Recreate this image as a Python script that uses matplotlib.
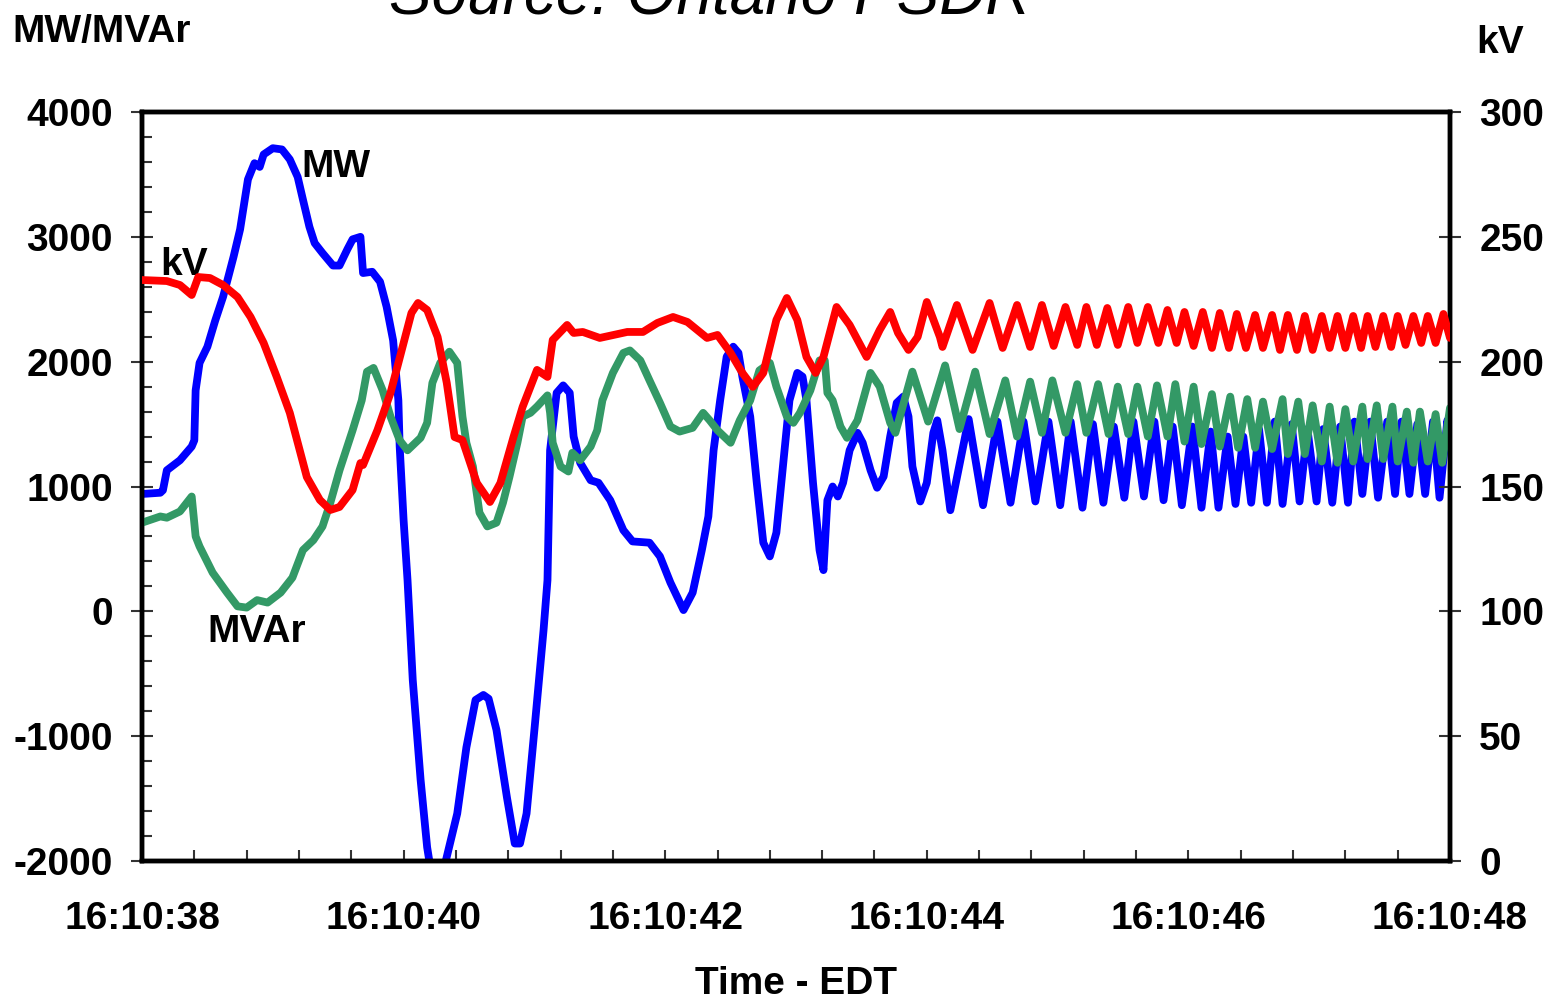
import matplotlib
matplotlib.use("Agg")
import matplotlib.pyplot as plt
from matplotlib.ticker import MultipleLocator, FixedLocator, FixedFormatter

plt.rcParams['font.family'] = ['Liberation Sans', 'DejaVu Sans']
plt.rcParams['axes.unicode_minus'] = False

# ---------------- data (time in s after 16:10:38) ----------------
mw_t = [0.00, 0.14, 0.16, 0.19, 0.29, 0.38, 0.40, 0.41, 0.44, 0.50, 0.56, 0.62, 0.70, 0.75, 0.81,
        0.86, 0.90, 0.93, 1.00, 1.07, 1.13, 1.19, 1.23, 1.28, 1.32, 1.38, 1.46, 1.51, 1.57, 1.61,
        1.67, 1.69, 1.76, 1.82, 1.87, 1.92, 1.96, 1.97, 2.00, 2.03, 2.07, 2.13, 2.18, 2.25, 2.32,
        2.41, 2.48, 2.55, 2.61, 2.65, 2.71, 2.79, 2.85, 2.89, 2.94, 3.00, 3.07, 3.10, 3.12, 3.17,
        3.22, 3.27, 3.30, 3.35, 3.43, 3.49, 3.58, 3.68, 3.75, 3.88, 3.96, 4.04, 4.14, 4.21, 4.28,
        4.33, 4.37, 4.42, 4.47, 4.52, 4.56, 4.59, 4.65, 4.70, 4.75, 4.80, 4.85, 4.90, 4.95, 5.01,
        5.05, 5.08, 5.13, 5.18, 5.21, 5.24, 5.28, 5.32, 5.36, 5.41, 5.47, 5.51, 5.57, 5.62, 5.67,
        5.72, 5.77, 5.82, 5.86, 5.89, 5.95, 6.00, 6.05, 6.08, 6.12, 6.18,
        6.32, 6.43, 6.54, 6.64, 6.74, 6.83, 6.93, 7.02, 7.10, 7.19, 7.27, 7.35, 7.43, 7.51, 7.58,
        7.66, 7.74, 7.81, 7.88, 7.95, 8.03, 8.10, 8.17, 8.23, 8.30, 8.36, 8.42, 8.48, 8.54, 8.60,
        8.66, 8.72, 8.79, 8.85, 8.91, 8.98, 9.03, 9.10, 9.16, 9.22, 9.27, 9.33, 9.39, 9.45, 9.52,
        9.58, 9.63, 9.69, 9.75, 9.81, 9.87, 9.92, 9.98, 10.00]
mw_val = [940, 950, 970, 1130, 1210, 1320, 1370, 1770, 1990, 2120, 2330, 2520, 2840, 3060, 3460,
          3590, 3560, 3660, 3710, 3700, 3620, 3480, 3300, 3080, 2950, 2870, 2770, 2770, 2900, 2980,
          3000, 2710, 2720, 2640, 2440, 2170, 1690, 1320, 730, 250, -550, -1350, -1890, -2350, -2010,
          -1620, -1090, -710, -670, -700, -950, -1490, -1860, -1860, -1620, -950, -150, 250, 1290, 1750,
          1810, 1750, 1400, 1190, 1050, 1030, 890, 650, 560, 550, 440, 230, 10, 150, 490,
          760, 1290, 1690, 2040, 2120, 2070, 1880, 1560, 1030, 550, 440, 630, 1160, 1690, 1910,
          1880, 1690, 1030, 490, 330, 890, 1000, 920, 1030, 1290, 1430, 1350, 1130, 990, 1080,
          1400, 1670, 1720, 1560, 1160, 880, 1030, 1430, 1530, 1290, 810,
          1540, 850, 1520, 870, 1520, 880, 1520, 850, 1520, 830, 1500, 870, 1480, 910, 1520,
          920, 1520, 890, 1480, 850, 1480, 830, 1440, 830, 1400, 860, 1400, 870, 1460, 870,
          1520, 860, 1500, 880, 1460, 880, 1460, 870, 1480, 870, 1520, 940, 1520, 910, 1520,
          940, 1520, 940, 1500, 940, 1520, 910, 1530, 1370]

mvar_t = [0.00, 0.14, 0.19, 0.29, 0.38, 0.41, 0.44, 0.54, 0.65, 0.73, 0.80, 0.88, 0.96, 1.06, 1.15,
          1.23, 1.31, 1.38, 1.44, 1.51, 1.61, 1.68, 1.72, 1.77, 1.84, 1.90, 1.97, 2.03, 2.13, 2.18,
          2.22, 2.28, 2.35, 2.41, 2.45, 2.48, 2.53, 2.58, 2.64, 2.71, 2.76, 2.81, 2.87, 2.91, 2.97,
          3.02, 3.10, 3.12, 3.14, 3.20, 3.26, 3.29, 3.35, 3.43, 3.48, 3.52, 3.60, 3.68, 3.73, 3.81,
          3.88, 3.96, 4.04, 4.11, 4.21, 4.29, 4.34, 4.40, 4.50, 4.57, 4.65, 4.72, 4.80, 4.85, 4.93,
          4.98, 5.03, 5.11, 5.18, 5.22, 5.24, 5.28, 5.34, 5.39, 5.47, 5.57, 5.64, 5.72, 5.76,
          5.89, 6.01, 6.14, 6.25, 6.37, 6.48, 6.60, 6.69, 6.79, 6.88, 6.96, 7.06, 7.15, 7.22, 7.31,
          7.39, 7.46, 7.54, 7.61, 7.69, 7.76, 7.84, 7.90, 7.97, 8.04, 8.10, 8.18, 8.24, 8.32, 8.38,
          8.45, 8.51, 8.57, 8.64, 8.72, 8.76, 8.84, 8.89, 8.95, 9.02, 9.08, 9.14, 9.20, 9.26, 9.33,
          9.37, 9.44, 9.49, 9.56, 9.60, 9.67, 9.72, 9.77, 9.83, 9.89, 9.94, 10.00]
mvar_val = [710, 760, 750, 800, 920, 600, 520, 310, 150, 40, 30, 90, 70, 150, 270,
            490, 570, 680, 870, 1130, 1450, 1690, 1920, 1950, 1770, 1560, 1370, 1290, 1390, 1510,
            1830, 1990, 2080, 1990, 1560, 1350, 1160, 790, 680, 710, 870, 1080, 1350, 1560, 1590,
            1640, 1730, 1590, 1350, 1160, 1120, 1270, 1210, 1320, 1450, 1690, 1910, 2070, 2090, 2010,
            1850, 1670, 1480, 1440, 1470, 1590, 1530, 1450, 1350, 1530, 1690, 1930, 1990, 1800, 1560,
            1510, 1590, 1770, 2010, 2010, 1750, 1690, 1480, 1390, 1530, 1910, 1800, 1510, 1430,
            1920, 1520, 1970, 1460, 1920, 1420, 1850, 1400, 1840, 1430, 1850, 1430, 1820, 1430, 1820,
            1420, 1800, 1420, 1800, 1400, 1810, 1400, 1820, 1360, 1800, 1340, 1740, 1320, 1720, 1310,
            1700, 1310, 1680, 1300, 1700, 1260, 1680, 1260, 1650, 1200, 1640, 1190, 1620, 1200, 1640,
            1220, 1650, 1220, 1640, 1200, 1600, 1190, 1600, 1200, 1580, 1190, 1630]

kv_t = [0.00, 0.19, 0.29, 0.38, 0.43, 0.52, 0.62, 0.73, 0.83, 0.93, 1.03, 1.13, 1.26, 1.36, 1.44,
        1.51, 1.61, 1.67, 1.69, 1.80, 1.90, 2.00, 2.06, 2.11, 2.18, 2.26, 2.33, 2.39, 2.45, 2.56,
        2.66, 2.74, 2.84, 2.91, 3.02, 3.10, 3.14, 3.25, 3.30, 3.37, 3.50, 3.71, 3.83, 3.94, 4.06,
        4.17, 4.32, 4.40, 4.50, 4.59, 4.67, 4.75, 4.85, 4.93, 5.01, 5.08, 5.15, 5.21, 5.31, 5.41,
        5.54, 5.64, 5.72, 5.78, 5.86, 5.93, 6.00, 6.10, 6.12, 6.23, 6.35,
        6.48, 6.58, 6.69, 6.79, 6.88, 6.97, 7.06, 7.15, 7.22, 7.30, 7.38, 7.46, 7.54, 7.61, 7.69,
        7.77, 7.84, 7.91, 7.97, 8.04, 8.11, 8.18, 8.24, 8.31, 8.37, 8.44, 8.51, 8.57, 8.64, 8.70,
        8.76, 8.83, 8.89, 8.95, 9.02, 9.08, 9.14, 9.20, 9.26, 9.32, 9.37, 9.43, 9.49, 9.55, 9.60,
        9.66, 9.72, 9.78, 9.83, 9.89, 9.95, 10.00]
kv_val = [232.7, 232.3, 230.7, 226.7, 233.9, 233.5, 230.7, 225.9, 217.9, 207.5, 193.9, 179.5, 153.8, 144.6, 140.6,
          141.8, 148.6, 159.4, 158.6, 172.6, 187.5, 207.5, 219.5, 223.5, 220.7, 209.9, 191.5, 169.8, 168.6, 151.4,
          143.8, 151.4, 169.8, 181.9, 196.7, 193.9, 208.7, 214.7, 211.5, 211.9, 209.5, 211.9, 211.9, 215.5, 217.9,
          215.9, 209.5, 210.7, 203.5, 195.5, 189.9, 195.5, 216.7, 225.5, 216.7, 201.9, 195.5, 201.9, 221.9, 214.7,
          201.9, 212.7, 219.9, 211.5, 204.7, 209.9, 223.9, 209.9, 205.9, 222.7, 204.7,
          223.5, 205.5, 222.7, 205.9, 222.7, 206.3, 221.9, 206.7, 221.9, 206.7, 221.5, 206.7, 221.9, 207.5, 221.9,
          207.5, 220.7, 207.5, 219.9, 206.3, 219.9, 205.5, 219.5, 205.5, 219.1, 205.5, 218.7, 205.5, 218.7, 204.7,
          218.7, 204.7, 218.3, 204.7, 218.3, 205.5, 218.3, 205.5, 218.3, 205.5, 218.3, 205.9, 218.3, 205.9, 218.3,
          206.7, 218.3, 207.5, 218.3, 207.5, 219.1, 209.5]

time_labels = ["16:10:38", "16:10:40", "16:10:42", "16:10:44", "16:10:46", "16:10:48"]
time_label_pos = [0, 2, 4, 6, 8, 10]

# ---------------- figure ----------------
W, H = 1547, 998
fig = plt.figure(figsize=(W / 100, H / 100), dpi=100)
ax = fig.add_axes([142 / W, 1 - 861 / H, (1450 - 142) / W, (861 - 112) / H])
ax2 = ax.twinx()

lw = 5.6
style = dict(lw=lw, solid_joinstyle='round', solid_capstyle='round')
ax.plot(mw_t, mw_val, color='#0000FF', zorder=2, **style)
ax.plot(mvar_t, mvar_val, color='#339966', zorder=3, **style)
ax2.plot(kv_t, kv_val, color='#FF0000', zorder=4, **style)

ax.set_xlim(0, 10)
ax.set_ylim(-2000, 4000)
ax2.set_ylim(0, 300)

bold = dict(fontsize=28, fontweight='bold')

# x axis
ax.xaxis.set_major_locator(FixedLocator(time_label_pos))
ax.xaxis.set_major_formatter(FixedFormatter(time_labels))
ax.xaxis.set_minor_locator(MultipleLocator(0.4))
ax.tick_params(axis='x', which='both', direction='in', length=8, width=1.5, color='#333333',
               pad=29, labelsize=28, top=False)
for lab in ax.get_xticklabels():
    lab.set_fontweight('bold')

# left y axis
ax.yaxis.set_major_locator(MultipleLocator(1000))
ax.yaxis.set_minor_locator(MultipleLocator(200))
ax.tick_params(axis='y', which='major', direction='inout', length=16, width=1.5, color='#333333',
               pad=13, labelsize=28)
ax.tick_params(axis='y', which='minor', direction='in', length=7, width=1.5, color='#333333')
for lab in ax.get_yticklabels():
    lab.set_fontweight('bold')

# right y axis
ax2.yaxis.set_major_locator(MultipleLocator(50))
ax2.tick_params(axis='y', which='major', direction='inout', length=16, width=1.5, color='#333333',
                pad=13, labelsize=28)
for lab in ax2.get_yticklabels():
    lab.set_fontweight('bold')

for a in (ax, ax2):
    for s in a.spines.values():
        s.set_linewidth(3.2)
        s.set_color('black')

# texts
fig.text(12 / W, 1 - 42 / H, "MW/MVAr", ha='left', va='baseline', **bold)
fig.text(1476 / W, 1 - 53 / H, "kV", ha='left', va='baseline', **bold)
fig.text(710 / W, 1 - 13 / H, "Source: Ontario PSDR", ha='center', va='baseline',
         fontsize=46, fontstyle='italic')
fig.text(796 / W, 1 - 994 / H, "Time - EDT", ha='center', va='baseline', **bold)

ax.text(1.22, 3479, "MW", ha='left', va='baseline', **bold)
ax.text(0.14, 2694, "kV", ha='left', va='baseline', **bold)
ax.text(0.50, -246, "MVAr", ha='left', va='baseline', **bold)

fig.savefig("out.png", dpi=100)
